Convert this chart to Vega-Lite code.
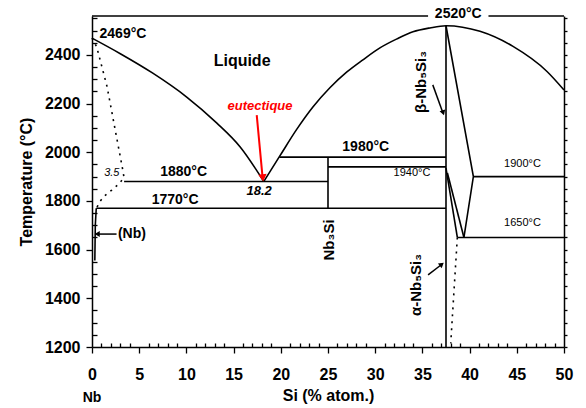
{
  "$schema": "https://vega.github.io/schema/vega-lite/v6.json",
  "width": 472,
  "height": 331,
  "autosize": {"type": "none"},
  "padding": {"left": 92, "top": 16, "right": 22, "bottom": 61},
  "background": "white",
  "config": {
    "view": {"stroke": null},
    "font": "Liberation Sans",
    "axis": {"grid": false, "domainColor": "black", "tickColor": "black", "labelColor": "black", "titleColor": "black"}
  },
  "resolve": {"axis": {"x": "independent", "y": "independent"}},
  "layer": [
    {
      "data": {"values": [
        {"seg": "liqL", "si": 0, "t": 2469}, {"seg": "liqL", "si": 3, "t": 2405}, {"seg": "liqL", "si": 6.4, "t": 2326},
        {"seg": "liqL", "si": 10, "t": 2228}, {"seg": "liqL", "si": 13.2, "t": 2121}, {"seg": "liqL", "si": 15.7, "t": 2022},
        {"seg": "liqL", "si": 18.2, "t": 1880},
        {"seg": "liqR", "si": 18.2, "t": 1880}, {"seg": "liqR", "si": 19.9, "t": 1985}, {"seg": "liqR", "si": 21.7, "t": 2095},
        {"seg": "liqR", "si": 23.4, "t": 2186}, {"seg": "liqR", "si": 25.2, "t": 2265}, {"seg": "liqR", "si": 27, "t": 2330},
        {"seg": "liqR", "si": 28.7, "t": 2380}, {"seg": "liqR", "si": 30.5, "t": 2429}, {"seg": "liqR", "si": 32.3, "t": 2466},
        {"seg": "liqR", "si": 34, "t": 2495}, {"seg": "liqR", "si": 35.8, "t": 2511}, {"seg": "liqR", "si": 37.5, "t": 2520},
        {"seg": "liqR", "si": 41.1, "t": 2497}, {"seg": "liqR", "si": 44.6, "t": 2435}, {"seg": "liqR", "si": 48.2, "t": 2332},
        {"seg": "liqR", "si": 50, "t": 2256}
      ]},
      "mark": {"type": "line", "interpolate": "monotone", "color": "black", "strokeWidth": 1.6},
      "encoding": {
        "x": {"field": "si", "type": "quantitative", "scale": {"domain": [0, 50], "nice": false, "zero": false},
          "axis": {"orient": "bottom", "values": [0,1,2,3,4,5,6,7,8,9,10,11,12,13,14,15,16,17,18,19,20,21,22,23,24,25,26,27,28,29,30,31,32,33,34,35,36,37,38,39,40,41,42,43,44,45,46,47,48,49,50],
            "labelExpr": "datum.value % 5 === 0 ? datum.label : ''", "labelOverlap": false, "labelFlush": false,
            "tickSize": {"condition": {"test": "datum.value % 5 === 0", "value": 6}, "value": -4},
            "tickWidth": 1.3, "domainWidth": 1.5,
            "labelFontSize": 16, "labelFontWeight": "bold", "labelPadding": 13, "title": "Si (% atom.)", "titleFontSize": 16, "titleFontWeight": "bold", "titlePadding": 5}},
        "y": {"field": "t", "type": "quantitative", "scale": {"domain": [1200, 2560], "nice": false, "zero": false},
          "axis": {"orient": "left", "values": [1200,1250,1300,1350,1400,1450,1500,1550,1600,1650,1700,1750,1800,1850,1900,1950,2000,2050,2100,2150,2200,2250,2300,2350,2400,2450,2500,2550],
            "format": "d", "labelExpr": "datum.value % 200 === 0 ? datum.label : ''", "labelOverlap": false, "labelFlush": false,
            "tickSize": {"condition": {"test": "datum.value % 200 === 0", "value": 6}, "value": -5},
            "tickWidth": 1.3, "domainWidth": 1.5,
            "labelFontSize": 16, "labelFontWeight": "bold", "labelPadding": 6, "title": "Temperature (°C)", "titleFontSize": 16, "titleFontWeight": "bold", "titlePadding": 10}},
        "detail": {"field": "seg"}
      }
    },
    {
      "data": {"values": [
        {"seg": "nb3si", "o": 1, "si": 25, "t": 1980}, {"seg": "nb3si", "o": 2, "si": 25, "t": 1770},
        {"seg": "h1980", "o": 1, "si": 19.85, "t": 1980}, {"seg": "h1980", "o": 2, "si": 37.5, "t": 1980},
        {"seg": "h1940", "o": 1, "si": 25, "t": 1940}, {"seg": "h1940", "o": 2, "si": 37.5, "t": 1940},
        {"seg": "h1880", "o": 1, "si": 3.4, "t": 1880}, {"seg": "h1880", "o": 2, "si": 25, "t": 1880},
        {"seg": "h1770", "o": 1, "si": 0.45, "t": 1770}, {"seg": "h1770", "o": 2, "si": 37.5, "t": 1770},
        {"seg": "nb5si3", "o": 1, "si": 37.5, "t": 2520}, {"seg": "nb5si3", "o": 2, "si": 37.5, "t": 1200},
        {"seg": "betaR", "o": 1, "si": 37.5, "t": 2520}, {"seg": "betaR", "o": 2, "si": 40.4, "t": 1900}, {"seg": "betaR", "o": 3, "si": 39.4, "t": 1650},
        {"seg": "h1900", "o": 1, "si": 40.4, "t": 1900}, {"seg": "h1900", "o": 2, "si": 50, "t": 1900},
        {"seg": "h1650", "o": 1, "si": 38.7, "t": 1650}, {"seg": "h1650", "o": 2, "si": 50, "t": 1650},
        {"seg": "ab1", "o": 1, "si": 37.5, "t": 1935}, {"seg": "ab1", "o": 2, "si": 38.7, "t": 1650},
        {"seg": "ab2", "o": 1, "si": 37.65, "t": 1915}, {"seg": "ab2", "o": 2, "si": 39.4, "t": 1650},
        {"seg": "nbss", "o": 1, "si": 0.45, "t": 1770}, {"seg": "nbss", "o": 2, "si": 0.35, "t": 1700}, {"seg": "nbss", "o": 3, "si": 0.3, "t": 1555}
      ]},
      "mark": {"type": "line", "color": "black", "strokeWidth": 1.6},
      "encoding": {
        "x": {"field": "si", "type": "quantitative", "axis": null},
        "y": {"field": "t", "type": "quantitative", "axis": null},
        "detail": {"field": "seg"},
        "order": {"field": "o"}
      }
    },
    {
      "data": {"values": [
        {"seg": "d1", "o": 1, "si": 0, "t": 2469}, {"seg": "d1", "o": 2, "si": 0.5, "t": 2433}, {"seg": "d1", "o": 3, "si": 1.6, "t": 2269},
        {"seg": "d1", "o": 4, "si": 2.4, "t": 2104}, {"seg": "d1", "o": 5, "si": 3.2, "t": 1940}, {"seg": "d1", "o": 6, "si": 3.4, "t": 1895},
        {"seg": "d1", "o": 7, "si": 2.7, "t": 1865}, {"seg": "d1", "o": 8, "si": 2.1, "t": 1845}, {"seg": "d1", "o": 9, "si": 1.3, "t": 1820},
        {"seg": "d1", "o": 10, "si": 0.8, "t": 1796}, {"seg": "d1", "o": 11, "si": 0.5, "t": 1772},
        {"seg": "d2", "o": 1, "si": 38.7, "t": 1650}, {"seg": "d2", "o": 2, "si": 38.0, "t": 1215}
      ]},
      "mark": {"type": "line", "color": "black", "strokeWidth": 1.6, "strokeDash": [2, 5]},
      "encoding": {
        "x": {"field": "si", "type": "quantitative", "axis": null},
        "y": {"field": "t", "type": "quantitative",
          "axis": {"orient": "right", "values": [1200,1250,1300,1350,1400,1450,1500,1550,1600,1650,1700,1750,1800,1850,1900,1950,2000,2050,2100,2150,2200,2250,2300,2350,2400,2450,2500,2550],
            "tickSize": 3, "tickWidth": 1.3, "labels": false, "domain": true, "domainWidth": 1.5, "title": null}},
        "detail": {"field": "seg"},
        "order": {"field": "o"}
      }
    },
    {
      "data": {"values": [
        {"si": 0, "si2": 35.6, "t": 2560},
        {"si": 42.0, "si2": 50, "t": 2560}
      ]},
      "mark": {"type": "rule", "color": "black", "strokeWidth": 1.5},
      "encoding": {
        "x": {"field": "si", "type": "quantitative", "axis": null},
        "x2": {"field": "si2"},
        "y": {"field": "t", "type": "quantitative", "axis": null}
      }
    },
    {
      "data": {"values": [
        {"si": 36.1, "t": 2277, "si2": 37.15, "t2": 2165},
        {"si": 35.6, "t": 1496, "si2": 37.0, "t2": 1538},
        {"si": 2.6, "t": 1664, "si2": 0.6, "t2": 1664}
      ]},
      "mark": {"type": "rule", "color": "black", "strokeWidth": 1.5},
      "encoding": {
        "x": {"field": "si", "type": "quantitative", "axis": null},
        "x2": {"field": "si2"},
        "y": {"field": "t", "type": "quantitative", "axis": null},
        "y2": {"field": "t2"}
      }
    },
    {
      "data": {"values": [{"si": 37.2, "t": 2162}]},
      "mark": {"type": "point", "shape": "triangle-down", "filled": true, "color": "black", "size": 35, "angle": 342, "opacity": 1},
      "encoding": {"x": {"field": "si", "type": "quantitative", "axis": null}, "y": {"field": "t", "type": "quantitative", "axis": null}}
    },
    {
      "data": {"values": [{"si": 37.05, "t": 1540}]},
      "mark": {"type": "point", "shape": "triangle-up", "filled": true, "color": "black", "size": 35, "angle": 51, "opacity": 1},
      "encoding": {"x": {"field": "si", "type": "quantitative", "axis": null}, "y": {"field": "t", "type": "quantitative", "axis": null}}
    },
    {
      "data": {"values": [{"si": 0.55, "t": 1664}]},
      "mark": {"type": "point", "shape": "triangle-left", "filled": true, "color": "black", "size": 35, "opacity": 1},
      "encoding": {"x": {"field": "si", "type": "quantitative", "axis": null}, "y": {"field": "t", "type": "quantitative", "axis": null}}
    },
    {
      "data": {"values": [{"si": 17.45, "t": 2153, "si2": 18.05, "t2": 1905}]},
      "mark": {"type": "rule", "color": "#ff0000", "strokeWidth": 2},
      "encoding": {
        "x": {"field": "si", "type": "quantitative", "axis": null},
        "x2": {"field": "si2"},
        "y": {"field": "t", "type": "quantitative", "axis": null},
        "y2": {"field": "t2"}
      }
    },
    {
      "data": {"values": [{"si": 18.1, "t": 1895}]},
      "mark": {"type": "point", "shape": "triangle-down", "filled": true, "color": "#ff0000", "size": 70, "angle": 354, "opacity": 1},
      "encoding": {"x": {"field": "si", "type": "quantitative", "axis": null}, "y": {"field": "t", "type": "quantitative", "axis": null}}
    },
    {
      "data": {"values": [
        {"si": 9.7, "t": 1917, "label": "1880°C"},
        {"si": 8.8, "t": 1806, "label": "1770°C"},
        {"si": 29.0, "t": 2022, "label": "1980°C"},
        {"si": 38.8, "t": 2569, "label": "2520°C"},
        {"si": 0, "t": 990, "label": "Nb"}
      ]},
      "mark": {"type": "text", "fontSize": 14, "fontWeight": "bold", "color": "black", "align": "center", "baseline": "middle"},
      "encoding": {"x": {"field": "si", "type": "quantitative", "axis": null}, "y": {"field": "t", "type": "quantitative", "axis": null}, "text": {"field": "label"}}
    },
    {
      "data": {"values": [
        {"si": 0.8, "t": 2486, "label": "2469°C"},
        {"si": 2.75, "t": 1664, "label": "(Nb)"}
      ]},
      "mark": {"type": "text", "fontSize": 14, "fontWeight": "bold", "color": "black", "align": "left", "baseline": "middle"},
      "encoding": {"x": {"field": "si", "type": "quantitative", "axis": null}, "y": {"field": "t", "type": "quantitative", "axis": null}, "text": {"field": "label"}}
    },
    {
      "data": {"values": [{"si": 15.9, "t": 2375, "label": "Liquide"}]},
      "mark": {"type": "text", "fontSize": 16, "fontWeight": "bold", "color": "black", "align": "center", "baseline": "middle"},
      "encoding": {"x": {"field": "si", "type": "quantitative", "axis": null}, "y": {"field": "t", "type": "quantitative", "axis": null}, "text": {"field": "label"}}
    },
    {
      "data": {"values": [{"si": 17.8, "t": 2190, "label": "eutectique"}]},
      "mark": {"type": "text", "fontSize": 13, "fontWeight": "bold", "fontStyle": "italic", "color": "#ff0000", "align": "center", "baseline": "middle"},
      "encoding": {"x": {"field": "si", "type": "quantitative", "axis": null}, "y": {"field": "t", "type": "quantitative", "axis": null}, "text": {"field": "label"}}
    },
    {
      "data": {"values": [{"si": 17.7, "t": 1842, "label": "18.2"}]},
      "mark": {"type": "text", "fontSize": 13, "fontWeight": "bold", "fontStyle": "italic", "color": "black", "align": "center", "baseline": "middle"},
      "encoding": {"x": {"field": "si", "type": "quantitative", "axis": null}, "y": {"field": "t", "type": "quantitative", "axis": null}, "text": {"field": "label"}}
    },
    {
      "data": {"values": [{"si": 2.1, "t": 1915, "label": "3.5"}]},
      "mark": {"type": "text", "fontSize": 11, "fontStyle": "italic", "color": "black", "align": "center", "baseline": "middle"},
      "encoding": {"x": {"field": "si", "type": "quantitative", "axis": null}, "y": {"field": "t", "type": "quantitative", "axis": null}, "text": {"field": "label"}}
    },
    {
      "data": {"values": [
        {"si": 33.9, "t": 1915, "label": "1940°C"},
        {"si": 45.6, "t": 1952, "label": "1900°C"},
        {"si": 45.6, "t": 1710, "label": "1650°C"}
      ]},
      "mark": {"type": "text", "fontSize": 11, "color": "black", "align": "center", "baseline": "middle"},
      "encoding": {"x": {"field": "si", "type": "quantitative", "axis": null}, "y": {"field": "t", "type": "quantitative", "axis": null}, "text": {"field": "label"}}
    },
    {
      "data": {"values": [
        {"si": 25.1, "t": 1640, "label": "Nb₃Si"},
        {"si": 34.3, "t": 1455, "label": "α-Nb₅Si₃"},
        {"si": 34.8, "t": 2289, "label": "β-Nb₅Si₃"}
      ]},
      "mark": {"type": "text", "fontSize": 15, "fontWeight": "bold", "color": "black", "align": "center", "baseline": "middle", "angle": 270},
      "encoding": {"x": {"field": "si", "type": "quantitative", "axis": null}, "y": {"field": "t", "type": "quantitative", "axis": null}, "text": {"field": "label"}}
    }
  ]
}
